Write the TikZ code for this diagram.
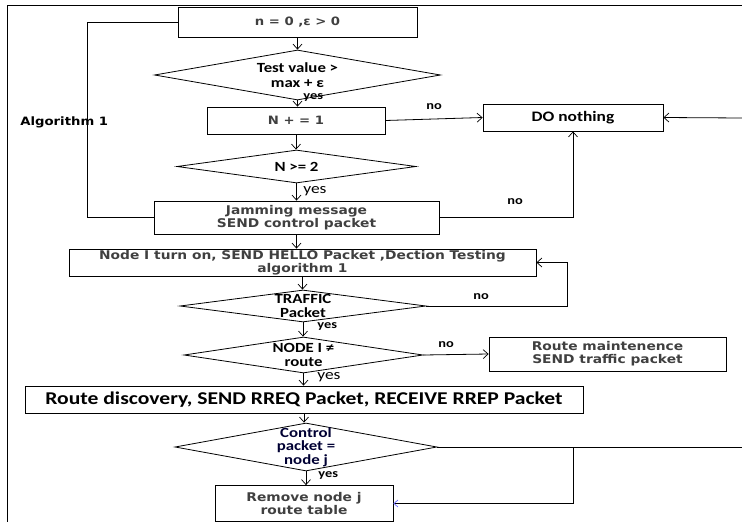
\documentclass[tikz,border=0pt]{standalone}
\usepackage{fontspec}
\usetikzlibrary{arrows.meta,shapes.geometric}
\setmainfont{Carlito}
\newfontfamily\calfnt[FakeStretch=1.2]{Carlito}
\newfontfamily\widfnt[FakeStretch=1.15]{DejaVu Sans}
\begin{document}
\begin{tikzpicture}[x=1pt,y=-1pt,
  line width=0.8pt,
  arr/.style={-{Straight Barb[length=5pt,width=9pt,line width=0.7pt]}},
  box/.style={draw,rectangle,inner sep=0pt,align=center},
  dia/.style={draw,diamond,inner sep=0pt,align=center},
  otext/.style={font=\widfnt\bfseries\fontsize{12}{13}\selectfont,text=black!75},
  ctext/.style={font=\calfnt\bfseries\fontsize{14}{14.5}\selectfont},
  lab/.style={font=\calfnt\fontsize{12}{12}\selectfont,inner sep=0pt,anchor=west}]
\useasboundingbox (0,0) rectangle (742,522);
\draw (7,522) -- (7,5) -- (742,5);
% nodes
\node[box,otext,font=\widfnt\bfseries\fontsize{11.5}{12.5}\selectfont,minimum width=239pt,minimum height=30pt] (b1) at (297.5,22) {n = 0 ,ε > 0};
\node[dia,ctext,aspect=5.72,minimum width=286pt,minimum height=50pt] (d1) at (297.5,75) {Test value \textgreater\\ max + ε};
\node[box,otext,font=\widfnt\bfseries\fontsize{11.5}{12.5}\selectfont,minimum width=178pt,minimum height=27pt] (b2) at (296,120.5) {N + = 1};
\node[box,font=\calfnt\bfseries\fontsize{14.5}{14}\selectfont,minimum width=180pt,minimum height=27pt] (dn) at (573,117.5) {DO nothing};
\node[dia,ctext,aspect=7.24,minimum width=239pt,minimum height=33pt] (d2) at (296.5,166.5) {N \textgreater= 2};
\node[box,otext,minimum width=285pt,minimum height=33pt] (b3) at (296.5,217.5) {Jamming message\\SEND control packet};
\node[box,otext,minimum width=467pt,minimum height=27pt] (b4) at (302.5,262.5) {Node I turn on, SEND HELLO Packet ,Dection Testing\\algorithm 1};
\node[dia,ctext,aspect=7.69,minimum width=246pt,minimum height=32pt] (d3) at (303,306) {TRAFFIC\\Packet};
\node[dia,ctext,aspect=6.64,minimum width=239pt,minimum height=36pt] (d4) at (303.5,355) {NODE I ≠\\route};
\node[box,otext,minimum width=237pt,minimum height=34pt] (rm) at (607.5,354) {Route maintenence\\SEND traffic packet};
\node[box,font=\calfnt\bfseries\fontsize{18}{18}\selectfont,minimum width=558pt,minimum height=27pt] (b5) at (304,399.5) {Route discovery, SEND RREQ Packet, RECEIVE RREP Packet};
\node[dia,ctext,font=\calfnt\bfseries\fontsize{14}{13.5}\selectfont,text=blue!20!black,inner sep=-9pt,aspect=5.46,minimum width=262pt,minimum height=48pt] (d5) at (306,447) {Control\\packet =\\node j};
\node[box,otext,minimum width=178pt,minimum height=36pt] (b6) at (304,503.5) {Remove node j\\route table};
\node[font=\widfnt\bfseries\fontsize{11.5}{12}\selectfont,anchor=west,inner sep=0pt] (alg) at (20,122) {Algorithm 1};
% free ends
\coordinate (r1) at (742,118);
\coordinate (r5) at (742,447);
% connectors
\draw[arr] (b1.south) -- (b1.south |- d1.north);
\draw[arr] (d1.south) -- (d1.south |- b2.north);
\draw[arr] (b2.south) -- (b2.south |- d2.north);
\draw[arr] (d2.south) -- (d2.south |- b3.north);
\draw[arr] (b3.south) -- (b3.south |- b4.north);
\draw[arr] (b4.south) -- (b4.south |- d3.north);
\draw[arr] (d3.south) -- (d3.south |- d4.north);
\draw[arr] (d4.south) -- (d4.south |- b5.north);
\draw[arr] (b5.south) -- (b5.south |- d5.north);
\draw[arr] (d5.south) -- (d5.south |- b6.north);
\draw[arr] (b2.east) -- (dn.west);
\draw[arr] (r1) -- (dn.east);
\draw[arr] (b3.east) -| (dn.south);
\draw (b3.west) -- ++(-66,0) |- (b1.west);
\draw[arr] (d3.east) -- ++(141,0) |- (b4.east);
\draw[arr] (d4.east) -- (rm.west);
\draw (d5.east) -- (r5);
\draw[-{Straight Barb[length=4pt,width=7pt,line width=0.7pt,color=blue!60]}] (d5.east -| 573,0) |- (b6.east);
% labels
\node[lab,font=\calfnt\bfseries\fontsize{12}{12}\selectfont] (y1) at (303,97) {yes};
\node[lab,font=\calfnt\fontsize{14.5}{14}\selectfont] (y2) at (303,191) {yes};
\node[lab,font=\calfnt\bfseries\fontsize{12}{12}\selectfont] (y3) at (317,326) {yes};
\node[lab,font=\calfnt\fontsize{14.5}{14}\selectfont] (y4) at (317,377) {yes};
\node[lab,font=\calfnt\bfseries\fontsize{12}{12}\selectfont] (y5) at (318,475) {yes};
\node[lab,font=\calfnt\bfseries\fontsize{12}{12}\selectfont] (n1) at (426,107) {no};
\node[lab,font=\calfnt\bfseries\fontsize{12}{12}\selectfont] (n2) at (507,202) {no};
\node[lab,font=\calfnt\bfseries\fontsize{12}{12}\selectfont] (n3) at (473,297) {no};
\node[lab,font=\calfnt\bfseries\fontsize{12}{12}\selectfont] (n4) at (438,345) {no};
\end{tikzpicture}
\end{document}
